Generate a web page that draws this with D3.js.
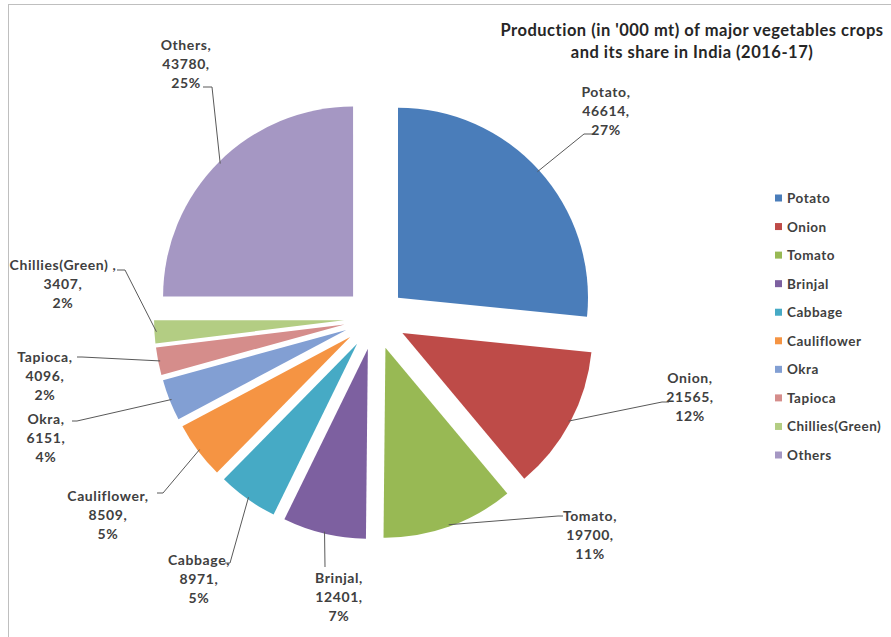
<!DOCTYPE html>
<html>
<head>
<meta charset="utf-8">
<script src="https://cdn.jsdelivr.net/npm/d3@7"></script>
<style>
  body { margin: 0; background: #fff; }
  svg { display: block; }
  text { font-family: Lato, "Open Sans", sans-serif; }
</style>
</head>
<body>
<svg id="chart" width="891" height="637"></svg>
<script>
// Vegetable production in India, 2016-17 ('000 mt)
const categories = ["Potato", "Onion", "Tomato", "Brinjal", "Cabbage", "Cauliflower",
                    "Okra", "Tapioca", "Chillies(Green)", "Others"];
const production = [46614, 21565, 19700, 12401, 8971, 8509, 6151, 4096, 3407, 43780];
const sliceColors = ["#4A7DBA", "#BE4B48", "#98B954", "#7D60A0", "#46AAC5", "#F59443",
                     "#829FD3", "#D58D8B", "#B3CD83", "#A597C3"];
const titleLines = ["Production (in '000 mt) of major vegetables crops",
                    "and its share in India (2016-17)"];
// first line of each data label (the chillies label carries a space before its comma)
const labelNames = ["Potato,", "Onion,", "Tomato,", "Brinjal,", "Cabbage,", "Cauliflower,",
                    "Okra,", "Tapioca,", "Chillies(Green) ,", "Others,"];

// label placement: text centre x, first baseline y, and the leader stub beside the text
const labelLayout = [
  { x: 606, y: 97,  stub: [[593, 134], [584, 134]] },
  { x: 690, y: 383, stub: [[669, 402], [662, 402]] },
  { x: 590, y: 521, stub: [[563, 516], [558, 516]] },
  { x: 339, y: 583, stub: [[325, 567]] },
  { x: 199, y: 565, stub: [[225, 563], [230, 563]] },
  { x: 108, y: 501, stub: [[157, 493], [163, 493]] },
  { x: 46,  y: 424, stub: [[72, 421], [77, 421]] },
  { x: 45,  y: 362, stub: [[77, 357], [82, 357]] },
  { x: 63,  y: 270, stub: [[117, 270], [125, 270]] },
  { x: 186, y: 50,  stub: [[203, 87], [212, 87]] }
];

const svg = d3.select("#chart");
const W = 891, H = 637;

svg.append("rect").attr("width", W).attr("height", H).attr("fill", "#fff");
// chart frame
svg.append("rect")
  .attr("x", 8.5).attr("y", 4.5).attr("width", 900).attr("height", 650)
  .attr("fill", "none").attr("stroke", "#BFBFBF").attr("stroke-width", 1);

const cx = 375, cy = 318.5, R = 190, explode = 31;
const total = d3.sum(production);
const pct = d3.format(".0%");

const pie = d3.pie().sort(null).value(d => d);
const arcs = pie(production);
const arc = d3.arc().innerRadius(0).outerRadius(R);

const offset = a => {
  const m = (a.startAngle + a.endAngle) / 2;
  return [Math.sin(m) * explode, -Math.cos(m) * explode];
};

const g = svg.append("g").attr("transform", `translate(${cx},${cy})`);

g.selectAll("path.slice")
  .data(arcs)
  .join("path")
  .attr("class", "slice")
  .attr("transform", a => `translate(${offset(a)})`)
  .attr("d", arc)
  .attr("fill", (a, i) => sliceColors[i]);

// leader lines from the slice edge to each label
const line = d3.line();
arcs.forEach((a, i) => {
  const m = (a.startAngle + a.endAngle) / 2;
  const [ox, oy] = offset(a);
  const rr = R - 2;
  const p = [cx + ox + Math.sin(m) * rr, cy + oy - Math.cos(m) * rr];
  const pts = labelLayout[i].stub.concat([p]);
  svg.append("path")
    .attr("d", line(pts))
    .attr("fill", "none")
    .attr("stroke", "#595959")
    .attr("stroke-width", 1);
});

// data labels
arcs.forEach((a, i) => {
  const L = labelLayout[i];
  const t = svg.append("text")
    .attr("x", L.x).attr("y", L.y)
    .attr("text-anchor", "middle")
    .attr("font-size", 14)
    .attr("letter-spacing", 0.6)
    .attr("font-weight", 700)
    .attr("fill", "#404040");
  [labelNames[i], production[i] + ",", pct(production[i] / total)].forEach((s, k) => {
    t.append("tspan").attr("x", L.x).attr("dy", k === 0 ? 0 : 19).text(s);
  });
});

// title
const title = svg.append("text")
  .attr("x", 692).attr("y", 36)
  .attr("text-anchor", "middle")
  .attr("font-size", 16.5)
  .attr("letter-spacing", 0.5)
  .attr("font-weight", 700)
  .attr("fill", "#262626");
titleLines.forEach((s, k) => {
  title.append("tspan").attr("x", 692).attr("dy", k === 0 ? 0 : 22).text(s);
});

// legend
const ly = d3.scalePoint().domain(categories).range([198, 455]);
const legend = svg.append("g");
legend.selectAll("rect")
  .data(categories)
  .join("rect")
  .attr("x", 775).attr("y", d => ly(d) - 3.5)
  .attr("width", 7).attr("height", 7)
  .attr("fill", (d, i) => sliceColors[i]);
legend.selectAll("text")
  .data(categories)
  .join("text")
  .attr("x", 787).attr("y", d => ly(d) + 5)
  .attr("font-size", 13.5)
  .attr("letter-spacing", 0.5)
  .attr("font-weight", 700)
  .attr("fill", "#404040")
  .text(d => d);
</script>
</body>
</html>
